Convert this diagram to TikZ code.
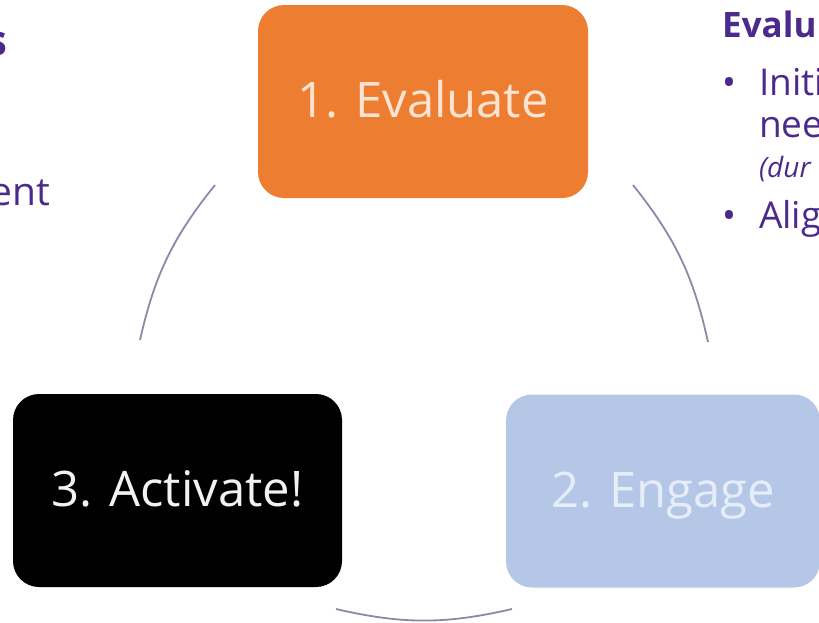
\documentclass[tikz,border=0pt]{standalone}
\usepackage{fontspec}
\setmainfont{Open Sans}
\usetikzlibrary{positioning}
\definecolor{evalorange}{HTML}{ED7D31}
\definecolor{evaltext}{HTML}{FBE3D2}
\definecolor{engageblue}{HTML}{B4C7E7}
\definecolor{engagetext}{HTML}{E6EDF8}
\definecolor{activtext}{HTML}{F2F2F2}
\definecolor{cyclegray}{HTML}{8A8AA8}
\definecolor{slidepurple}{HTML}{4B2A8C}
\tikzset{
  basic/.style  = {rectangle, rounded corners=26pt, inner sep=0pt,
                   minimum height=193pt, text height=32pt, text depth=0pt,
                   font=\fontsize{49}{56}\selectfont},
  evaluate/.style = {basic, fill=evalorange, text=evaltext, minimum width=330pt},
  engage/.style   = {basic, fill=engageblue, text=engagetext, minimum width=314pt},
  activate/.style = {basic, fill=black, text=activtext, minimum width=329pt},
  sidetext/.style = {inner sep=0pt, anchor=base west, text=slidepurple,
                     font=\fontsize{37}{42}\selectfont},
  cycleline/.style = {draw=cyclegray, line width=1.8pt, bend left=13}
}
\newcommand{\bodyx}{759}

\begin{document}
\begin{tikzpicture}[x=1pt, y=-1pt]
\useasboundingbox (0,0) rectangle (819,622);
\clip (0,0) rectangle (819,622);

% the three steps of the cycle
\node[evaluate] (eval) at (423,101.5) {1. Evaluate};
\node[engage]   (eng)  at (663,491)   {2. Engage};
\node[activate] (act)  at (177.5,490.5) {3. Activate!};

% end points of the arcs between the steps
\coordinate (l1) at (140,340);
\coordinate (l2) at (215,185);
\coordinate (r1) at (633,185);
\coordinate (r2) at (708,342);
\coordinate (b1) at (512,609);
\coordinate (b2) at (336,609);

\draw[cycleline] (l1) to (l2);
\draw[cycleline] (r1) to (r2);
\draw[cycleline] (b1) to (b2);

% text of the slide, cut off at both sides
\node[sidetext, anchor=base east, font=\fontsize{42}{46}\selectfont\bfseries] (lhead) at (8,55) {s};
\node[sidetext, anchor=base east, font=\fontsize{39}{44}\selectfont] (lbody) at (50,205) {ent};

\node[sidetext, font=\fontsize{35}{40}\selectfont\bfseries] (rhead) at (722,37) {Evalu};
\node[sidetext] (bul1) at (722,95) {•};
\node[sidetext] (line1) at (\bodyx,95) {Initi};
\node[sidetext] (line2) at (\bodyx,137) {nee};
\node[sidetext, font=\fontsize{28}{32}\selectfont\itshape] (line3) at (\bodyx,177) {(dur};
\node[sidetext] (bul2) at (722,228) {•};
\node[sidetext] (line4) at (\bodyx,228) {Alig};
\end{tikzpicture}
\end{document}
